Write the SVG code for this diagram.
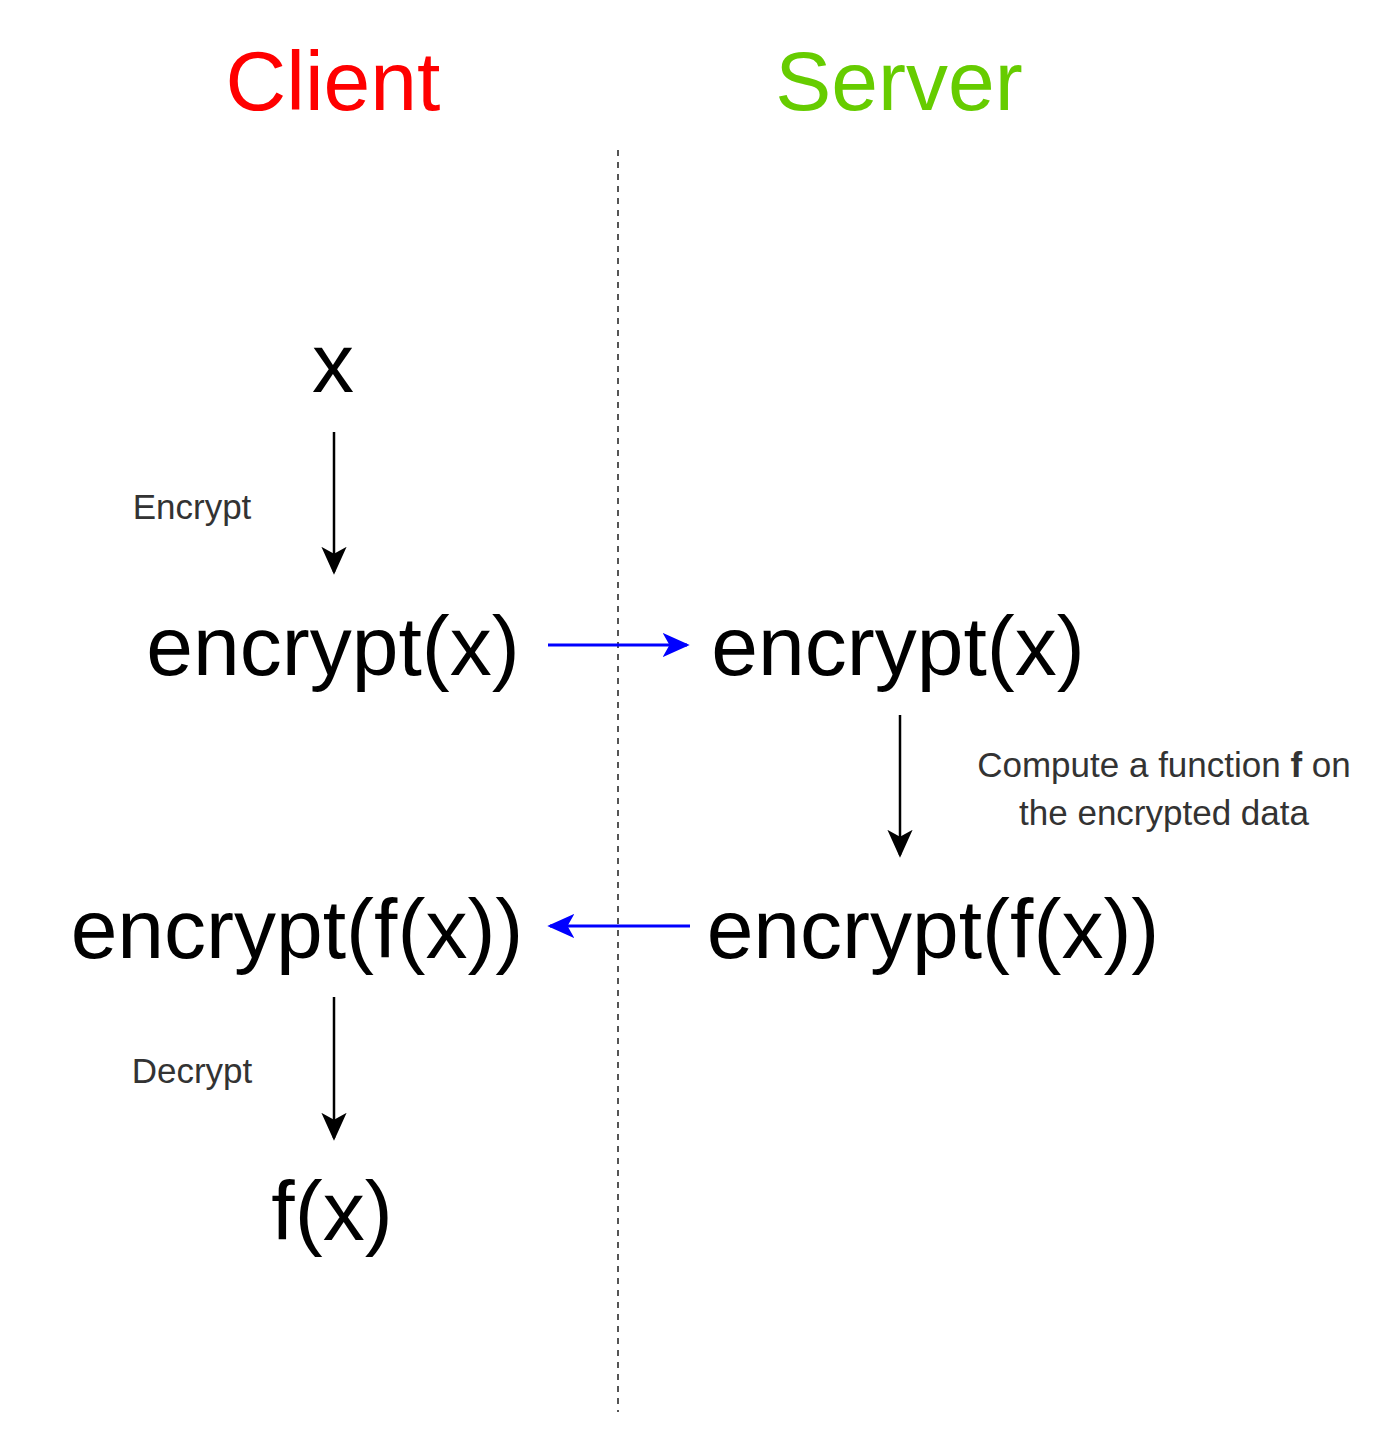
<svg xmlns="http://www.w3.org/2000/svg" width="1376" height="1440" viewBox="0 0 1376 1440">
<style>
.big{font-family:"Liberation Sans",Arial,sans-serif;font-size:84px;fill:#000;text-anchor:middle}
.hdr{font-family:"Liberation Sans",Arial,sans-serif;font-size:84px;text-anchor:middle}
.lbl{font-family:"Liberation Sans",Arial,sans-serif;font-size:35px;fill:#333;text-anchor:middle}
.blk{stroke:#000;stroke-width:2.5;fill:none}
.blu{stroke:#0000ff;stroke-width:3;fill:none}
</style>
<defs>
<marker id="ab" viewBox="0 0 10 10" refX="9" refY="5" markerWidth="28" markerHeight="28" markerUnits="userSpaceOnUse" orient="auto"><path d="M0,0.5 L10,5 L0,9.5 L2.5,5 Z" fill="#000"/></marker>
<marker id="au" viewBox="0 0 10 10" refX="9" refY="5" markerWidth="27" markerHeight="27" markerUnits="userSpaceOnUse" orient="auto"><path d="M0,0.5 L10,5 L0,9.5 L2.5,5 Z" fill="#0000ff"/></marker>
</defs>
<g id="headers">
<text class="hdr" x="333" y="110" fill="#ff0000">Client</text>
<text class="hdr" x="899" y="110" fill="#66cc00">Server</text>
</g>
<line id="divider" x1="618" y1="150" x2="618" y2="1412" stroke="#555" stroke-width="2" stroke-dasharray="6,6"/>
<g id="node-x"><text class="big" x="333" y="392">x</text></g>
<g id="node-client-enc"><text class="big" x="333" y="675">encrypt(x)</text></g>
<g id="node-server-enc"><text class="big" x="898" y="675">encrypt(x)</text></g>
<g id="node-server-encf"><text class="big" x="933" y="958">encrypt(f(x))</text></g>
<g id="node-client-encf"><text class="big" x="297" y="958">encrypt(f(x))</text></g>
<g id="node-fx"><text class="big" x="332" y="1240">f(x)</text></g>
<g id="connectors">
<line class="blk" x1="334" y1="432" x2="334" y2="572" marker-end="url(#ab)"/>
<line class="blu" x1="548" y1="645" x2="687" y2="645" marker-end="url(#au)"/>
<line class="blk" x1="900" y1="715" x2="900" y2="855" marker-end="url(#ab)"/>
<line class="blu" x1="690" y1="926" x2="550" y2="926" marker-end="url(#au)"/>
<line class="blk" x1="334" y1="997" x2="334" y2="1138" marker-end="url(#ab)"/>
</g>
<g id="labels">
<text class="lbl" x="192" y="519">Encrypt</text>
<text class="lbl" x="1164" y="777">Compute a function <tspan font-weight="bold">f</tspan> on</text>
<text class="lbl" x="1164" y="825">the encrypted data</text>
<text class="lbl" x="192" y="1083">Decrypt</text>
</g>
</svg>
